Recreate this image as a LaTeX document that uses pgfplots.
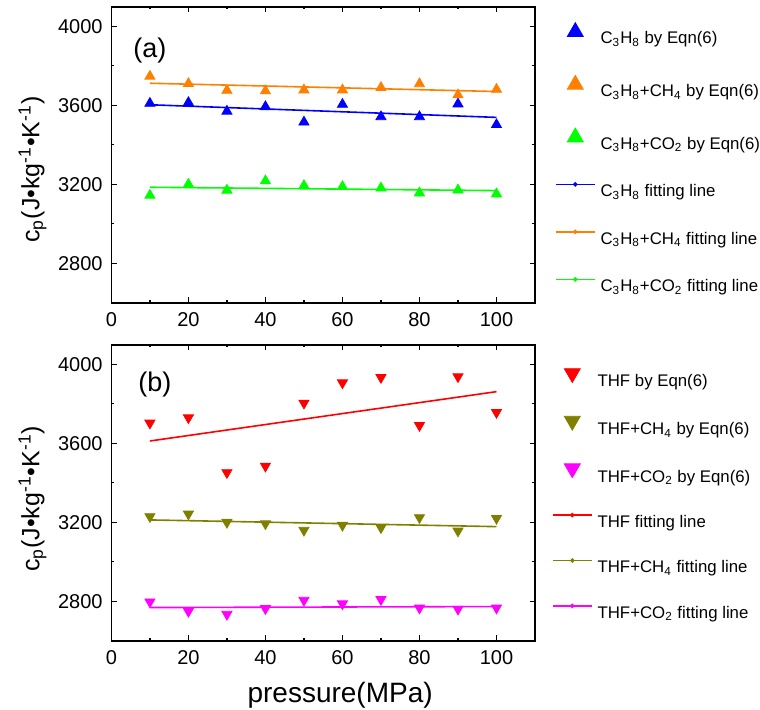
\documentclass[border=0pt]{standalone}
\usepackage{fontspec}
\setmainfont{Liberation Sans}
\usepackage{pgfplots}
\pgfplotsset{compat=1.18}

\definecolor{cblue}{RGB}{0,0,255}
\definecolor{corange}{RGB}{255,128,0}
\definecolor{cgreen}{RGB}{0,255,0}
\definecolor{cred}{RGB}{255,0,0}
\definecolor{colive}{RGB}{128,128,0}
\definecolor{cmagenta}{RGB}{255,0,255}

\pgfplotsset{
  panel/.style={
    scale only axis, width=211.8pt, height=148pt,
    xmin=0, xmax=110, ymin=2600, ymax=4100,
    xtick={0,20,...,100}, ytick={2800,3200,3600,4000},
    minor x tick num=1, minor y tick num=1,
    tick align=inside, major tick length=2.7pt, minor tick length=1.4pt,
    axis line style={line width=0.9pt},
    every tick/.append style={black, line width=0.6pt},
    tick label style={font=\fontsize{10}{12}\selectfont},
    xticklabel style={yshift=-1.2pt},
    yticklabel style={xshift=-0.9pt},
    /pgf/number format/assume math mode=true,
    /pgf/number format/1000 sep={},
    ylabel={c\textsubscript{p}(J•kg\textsuperscript{-1}•K\textsuperscript{-1})},
    ylabel style={font=\fontsize{12.5}{14}\selectfont, anchor=center},
    legend cell align=left,
    legend style={draw=none, fill=none, inner sep=0pt, outer sep=0pt,
      font=\fontsize{8.4}{10}\selectfont,
      nodes={inner sep=0pt, outer sep=0pt, text height=8pt, text depth=2pt},
      /tikz/every odd column/.append style={column sep=2.5pt}},
  },
  upmark/.style={only marks, mark=triangle*, mark size=2.9pt, color=#1,
    legend image code/.code={\draw[##1, mark size=4.6pt] plot coordinates {(9.75pt,3pt)};}},
  downmark/.style={only marks, mark=triangle*, mark size=2.9pt, color=#1,
    mark options={rotate=180},
    legend image code/.code={\draw[##1, mark size=4.6pt] plot coordinates {(9.75pt,3.8pt)};}},
  fitline/.style={no markers, color=#1, line width=0.8pt,
    legend image code/.code={\draw[##1] (0pt,3.2pt) -- (19.5pt,3.2pt);
      \fill[##1] (9.75pt,3.2pt) circle (0.7pt);}},
}

\begin{document}
\begin{tikzpicture}
\useasboundingbox (0,0) rectangle (380pt,355pt);

% (a) propane hydrates
\begin{axis}[panel, at={(55.7pt,203.65pt)}, anchor=south west,
  ylabel style={at={(axis description cs:-0.186,0.45)}},
  legend style={at={(axis description cs:1,1)}, anchor=north west,
    xshift=10pt, yshift=-8pt, row sep=13.75pt}]
\addplot[upmark=cblue] coordinates {
  (10,3610) (20,3614) (30,3570) (40,3593) (50,3515)
  (60,3605) (70,3542) (80,3542) (90,3607) (100,3502)};
\addlegendentry{C\textsubscript{3}H\textsubscript{8} by Eqn(6)}
\addplot[upmark=corange] coordinates {
  (10,3747) (20,3710) (30,3676) (40,3673) (50,3678)
  (60,3678) (70,3690) (80,3709) (90,3653) (100,3681)};
\addlegendentry{C\textsubscript{3}H\textsubscript{8}+CH\textsubscript{4} by Eqn(6)}
\addplot[upmark=cgreen] coordinates {
  (10,3144) (20,3200) (30,3170) (40,3217) (50,3193)
  (60,3188) (70,3181) (80,3156) (90,3171) (100,3151)};
\addlegendentry{C\textsubscript{3}H\textsubscript{8}+CO\textsubscript{2} by Eqn(6)}
\addplot[fitline=cblue] coordinates {(10,3603) (100,3539)};
\addlegendentry{C\textsubscript{3}H\textsubscript{8} fitting line}
\addplot[fitline=corange] coordinates {(10,3712) (100,3670)};
\addlegendentry{C\textsubscript{3}H\textsubscript{8}+CH\textsubscript{4} fitting line}
\addplot[fitline=cgreen] coordinates {(10,3185) (100,3168)};
\addlegendentry{C\textsubscript{3}H\textsubscript{8}+CO\textsubscript{2} fitting line}
\node[anchor=west, inner sep=0pt, font=\fontsize{13.5}{16}\selectfont] at (axis cs:5.6,3879) {(a)};
\end{axis}

% (b) THF hydrates
\begin{axis}[panel, at={(55.7pt,34.65pt)}, anchor=south west,
  ylabel style={at={(axis description cs:-0.186,0.479)}},
  xlabel={pressure(MPa)},
  xlabel style={font=\fontsize{14}{16}\selectfont, anchor=base,
    at={(axis description cs:0.54,-0.2105)}},
  legend style={at={(axis description cs:1,1)}, anchor=north west,
    xshift=8.5pt, yshift=-12pt, row sep=12.7pt}]
\addplot[downmark=cred] coordinates {
  (10,3703) (20,3730) (30,3452) (40,3485) (50,3804)
  (60,3907) (70,3934) (80,3691) (90,3938) (100,3757)};
\addlegendentry{THF by Eqn(6)}
\addplot[downmark=colive] coordinates {
  (10,3229) (20,3242) (30,3200) (40,3193) (50,3160)
  (60,3185) (70,3173) (80,3224) (90,3156) (100,3220)};
\addlegendentry{THF+CH\textsubscript{4} by Eqn(6)}
\addplot[downmark=cmagenta] coordinates {
  (10,2797) (20,2749) (30,2734) (40,2763) (50,2805)
  (60,2787) (70,2809) (80,2766) (90,2760) (100,2766)};
\addlegendentry{THF+CO\textsubscript{2} by Eqn(6)}
\addplot[fitline=cred] coordinates {(10,3612) (100,3862)};
\addlegendentry{THF fitting line}
\addplot[fitline=colive] coordinates {(10,3212) (100,3178)};
\addlegendentry{THF+CH\textsubscript{4} fitting line}
\addplot[fitline=cmagenta] coordinates {(10,2768) (100,2773)};
\addlegendentry{THF+CO\textsubscript{2} fitting line}
\node[anchor=west, inner sep=0pt, font=\fontsize{13.5}{16}\selectfont] at (axis cs:6.9,3900) {(b)};
\end{axis}
\end{tikzpicture}
\end{document}
